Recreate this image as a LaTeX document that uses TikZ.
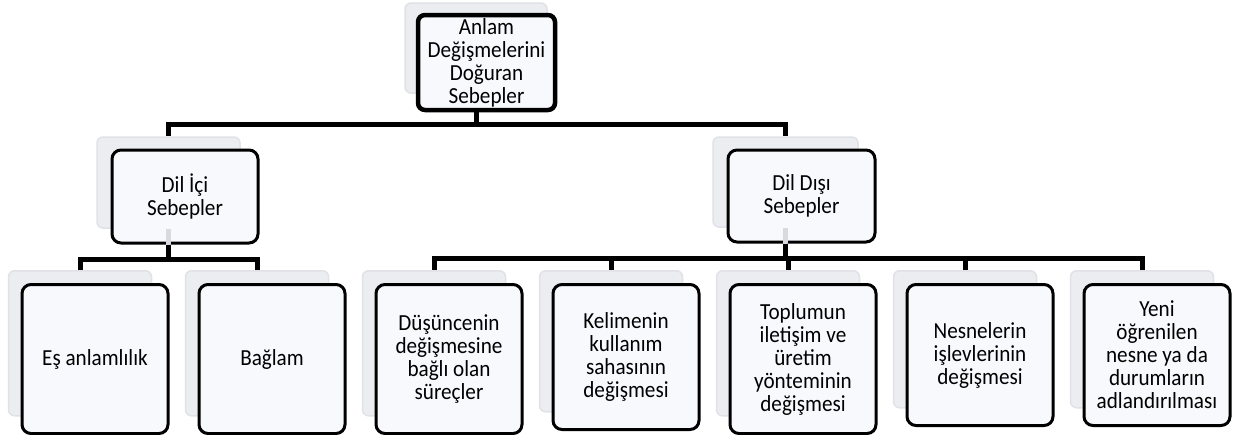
\documentclass[tikz,border=0pt]{standalone}
\usepackage{fontspec}
\setmainfont{Carlito}[FakeStretch=0.92]
\usetikzlibrary{positioning, calc}
\definecolor{Ink}{HTML}{000000}
\definecolor{CardFill}{HTML}{F8F9FC}
\definecolor{GhostFill}{HTML}{ECEDF1}
\definecolor{GhostLine}{HTML}{E1E2E7}
\definecolor{Stem}{HTML}{D9DADF}
\tikzset{
    ghost/.style={rectangle, rounded corners=6pt, fill=GhostFill, draw=GhostLine, line width=1.5pt, inner sep=0pt},
    card/.style={rectangle, rounded corners=9pt, fill=CardFill, draw=Ink, line width=3pt, align=center, inner sep=0pt, font=\fontsize{23}{23}\selectfont},
    headcard/.style={card, rounded corners=7pt, line width=4.5pt},
    link/.style={draw=Ink, line width=5pt},
    stem/.style={draw=Stem, line width=5pt},
}
\begin{document}
\begin{tikzpicture}[x=1pt, y=-1pt]
\useasboundingbox (0,0) rectangle (1246,434);

% Kök
\node[ghost, minimum width=142pt, minimum height=90pt] (g0) at (476,48) {};
\node[headcard, minimum width=137pt, minimum height=95pt] (n0) at (486.5,62.5) {Anlam\\Değişmelerini\\Doğuran\\Sebepler};

% Ara düzey
\node[ghost, minimum width=143pt, minimum height=91pt] (g1) at (168.5,182.5) {};
\node[card, minimum width=146pt, minimum height=93pt] (n1) at (185,196.5) {Dil İçi\\Sebepler};
\node[ghost, minimum width=145pt, minimum height=90pt] (g2) at (785.5,182) {};
\node[card, minimum width=147pt, minimum height=92pt] (n2) at (801.5,196) {Dil Dışı\\Sebepler};

% Alt düzey
\foreach \i/\cx/\h/\txt in {
    1/95/149/{Eş anlamlılık},
    2/272/149/{Bağlam},
    3/449/149/{Düşüncenin\\değişmesine\\bağlı olan\\süreçler},
    4/626/145/{Kelimenin\\kullanım\\sahasının\\değişmesi},
    5/803/149/{Toplumun\\iletişim ve\\üretim\\yönteminin\\değişmesi},
    6/980/141/{Nesnelerin\\işlevlerinin\\değişmesi},
    7/1157/141/{Yeni\\öğrenilen\\nesne ya da\\durumların\\adlandırılması}}{
    \node[ghost, minimum width=143pt, minimum height=\h pt - 4pt, anchor=north] (gb\i) at (\cx-15,270) {};
    \node[card, minimum width=146pt, minimum height=\h pt, anchor=north] (b\i) at (\cx,283) {\txt};
}

% Bağlantılar
\draw[link] (g0.south |- n0.south) -- ++(0,12) -| (g1.north);
\draw[link] (g0.south |- n0.south) -- ++(0,12) -| (g2.north);

\draw[stem] (g1.south) -- (g1.south |- n1.south);
\draw[link] (g1.south |- n1.south) -- ++(0,15) -| (gb1.north);
\draw[link] (g1.south |- n1.south) -- ++(0,15) -| (gb2.north);

\draw[stem] (g2.south) -- (g2.south |- n2.south);
\foreach \i in {3,...,7}
    \draw[link] (g2.south |- n2.south) -- ++(0,15) -| (gb\i.north);
\end{tikzpicture}
\end{document}
